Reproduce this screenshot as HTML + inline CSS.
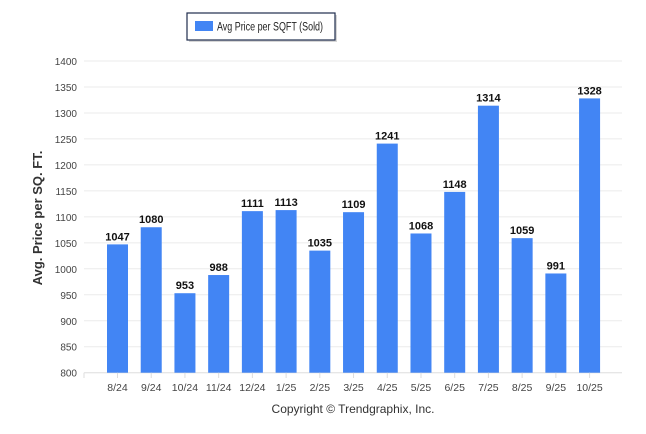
<!DOCTYPE html>
<html><head><meta charset="utf-8"><style>
body{margin:0;background:#fff;font-family:"Liberation Sans",Arial,sans-serif}
svg{display:block}
</style></head><body>
<svg id="c" width="646" height="434">
<rect x="189" y="15" width="148" height="27" fill="#bbb" opacity="0.6"/>
<rect x="187" y="13" width="148" height="27" fill="#fff" stroke="#1f2d4d" stroke-width="1.2"/>
<rect x="195" y="21" width="18" height="10" fill="#4285f4"/>
<text x="217" y="30.5" font-size="11.5" textLength="106" lengthAdjust="spacingAndGlyphs" fill="#222">Avg Price per SQFT (Sold)</text>
<text x="0" y="0" transform="translate(42,218) rotate(-90)" text-anchor="middle" font-size="13" font-weight="bold" fill="#333">Avg. Price per SQ. FT.</text>
<text x="353" y="413" text-anchor="middle" font-size="12" fill="#333">Copyright © Trendgraphix, Inc.</text>
<g id="grid"></g><g id="bars"></g>
</svg>
<script>
const categories=["8/24","9/24","10/24","11/24","12/24","1/25","2/25","3/25","4/25","5/25","6/25","7/25","8/25","9/25","10/25"];
const values=[1047,1080,953,988,1111,1113,1035,1109,1241,1068,1148,1314,1059,991,1328];
const yTicks=[800,850,900,950,1000,1050,1100,1150,1200,1250,1300,1350,1400];
const NS="http://www.w3.org/2000/svg";
const y=v=>372.7-(v-800)*(311.7/600);
const x=i=>117.5+i*33.72;
const bw=21;
function mk(t,a,p){const e=document.createElementNS(NS,t);for(const k in a)e.setAttribute(k,a[k]);p.appendChild(e);return e;}
const g=document.getElementById('grid'),b=document.getElementById('bars');
yTicks.forEach(v=>{
  const l=mk('line',{x1:84,x2:622,y1:y(v),y2:y(v),stroke:v===800?'#ddd':'#ebebeb','stroke-width':1},g);
  
  
  const t=mk('text',{x:77,y:y(v)+4,'text-anchor':'end','font-size':10,fill:'#444'},g);
  t.textContent=v;
  
  
});
mk('line',{x1:84,x2:84,y1:372.7,y2:378,stroke:'#ddd'},g);
categories.forEach((c,i)=>{
  const r=mk('rect',{x:x(i)-bw/2,y:y(values[i]),width:bw,height:372.7-y(values[i]),fill:'#4285f4'},b);
  
  
  const tk=mk('line',{x1:x(i),x2:x(i),y1:372.7,y2:378,stroke:'#ddd'},b);
  
  
  const v=mk('text',{x:x(i),y:y(values[i])-4,'text-anchor':'middle','font-size':11,'font-weight':'bold',fill:'#111'},b);
  v.textContent=values[i];
  
  
  const t=mk('text',{x:x(i),y:391,'text-anchor':'middle','font-size':10.5,fill:'#444'},b);
  t.textContent=c;
  
  
});
</script>
</body></html>
